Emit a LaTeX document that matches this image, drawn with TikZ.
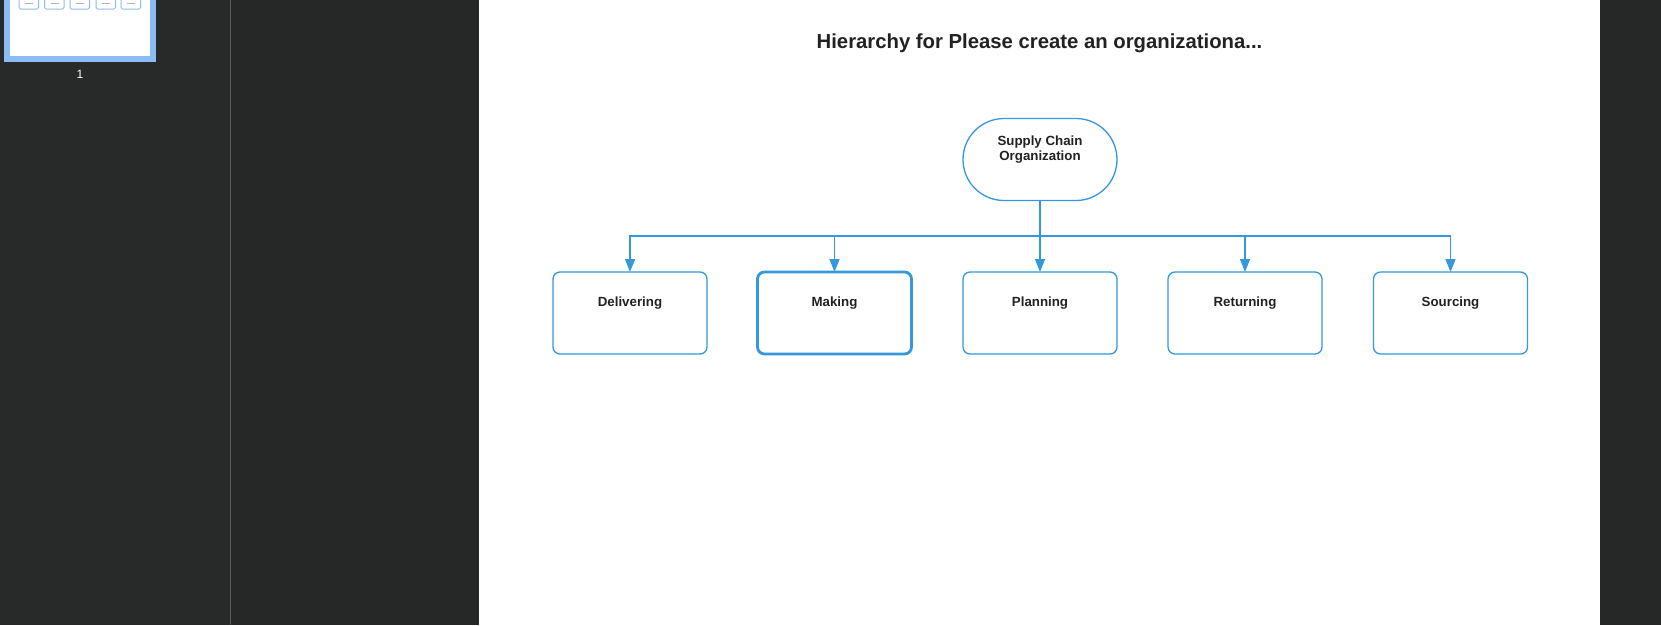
\documentclass[tikz,border=0pt]{standalone}
\usepackage{fontspec}
\setmainfont{Liberation Sans}
\usetikzlibrary{positioning,arrows.meta}
\definecolor{chainblue}{RGB}{52,152,219}
\definecolor{ink}{RGB}{34,34,34}
\definecolor{deskgray}{RGB}{38,40,39}
\definecolor{sidegray}{RGB}{40,42,41}
\definecolor{thumbblue}{RGB}{140,188,245}

\begin{document}
\begin{tikzpicture}[x=1pt,y=-1pt,
    box/.style={draw=chainblue,line width=1.3pt,rounded corners=7pt,fill=white,minimum width=154pt,minimum height=82pt,inner sep=0pt,outer sep=0pt},
    rootbox/.style={box,rounded corners=41pt},
    boxlabel/.style={anchor=north,yshift=-25pt,inner sep=0pt,text=ink,align=center,font=\bfseries\fontsize{13.3}{15.5}\selectfont},
    link/.style={draw=chainblue,line width=1.4pt,-{Triangle[length=13pt,width=10pt]}}]
    \useasboundingbox (0,0) rectangle (1661,625);
    % viewer around the page
    \fill[deskgray] (0,0) rectangle (1661,625);
    \fill[sidegray] (0,0) rectangle (230,625);
    \draw[gray!70!black] (230.5,0) -- (230.5,625);
    \fill[thumbblue] (4,0) rectangle (156,62);
    \fill[white] (10,0) rectangle (150,56);
    \foreach \x in {19,44.5,70,96,121}
        {\draw[thumbblue,line width=1pt,rounded corners=1.5pt] (\x,-2) rectangle ++(19.5,11);
         \draw[gray!60] (\x+6,2.7) -- ++(8,0);}
    \node[text=white,font=\fontsize{12}{14}\selectfont] (pagenum) at (80,74) {1};
    \fill[white] (479,0) rectangle (1600,625);

    \node[anchor=base,text=ink,font=\bfseries\fontsize{20.3}{24}\selectfont] (title) at (1039.5,48.5) {Hierarchy for Please create an organizationa...};

    \node[rootbox,label={[boxlabel,yshift=8pt]north:Supply Chain\\Organization}] (org) at (1040,159.5) {};
    \node[box,label={[boxlabel]north:Delivering}] (deliv) at (630,313) {};
    \node[box,line width=2.8pt,label={[boxlabel]north:Making}] (making) at (834.5,313) {};
    \node[box,label={[boxlabel]north:Planning}] (plan) at (1040,313) {};
    \node[box,label={[boxlabel]north:Returning}] (ret) at (1245,313) {};
    \node[box,label={[boxlabel]north:Sourcing}] (src) at (1450.5,313) {};

    \coordinate (bus) at (1040,236);
    \draw[chainblue,line width=1.4pt] (org) -- (bus);
    \foreach \k in {deliv,making,plan,ret,src}
        \draw[link] (bus) -| (\k.north);
\end{tikzpicture}
\end{document}
